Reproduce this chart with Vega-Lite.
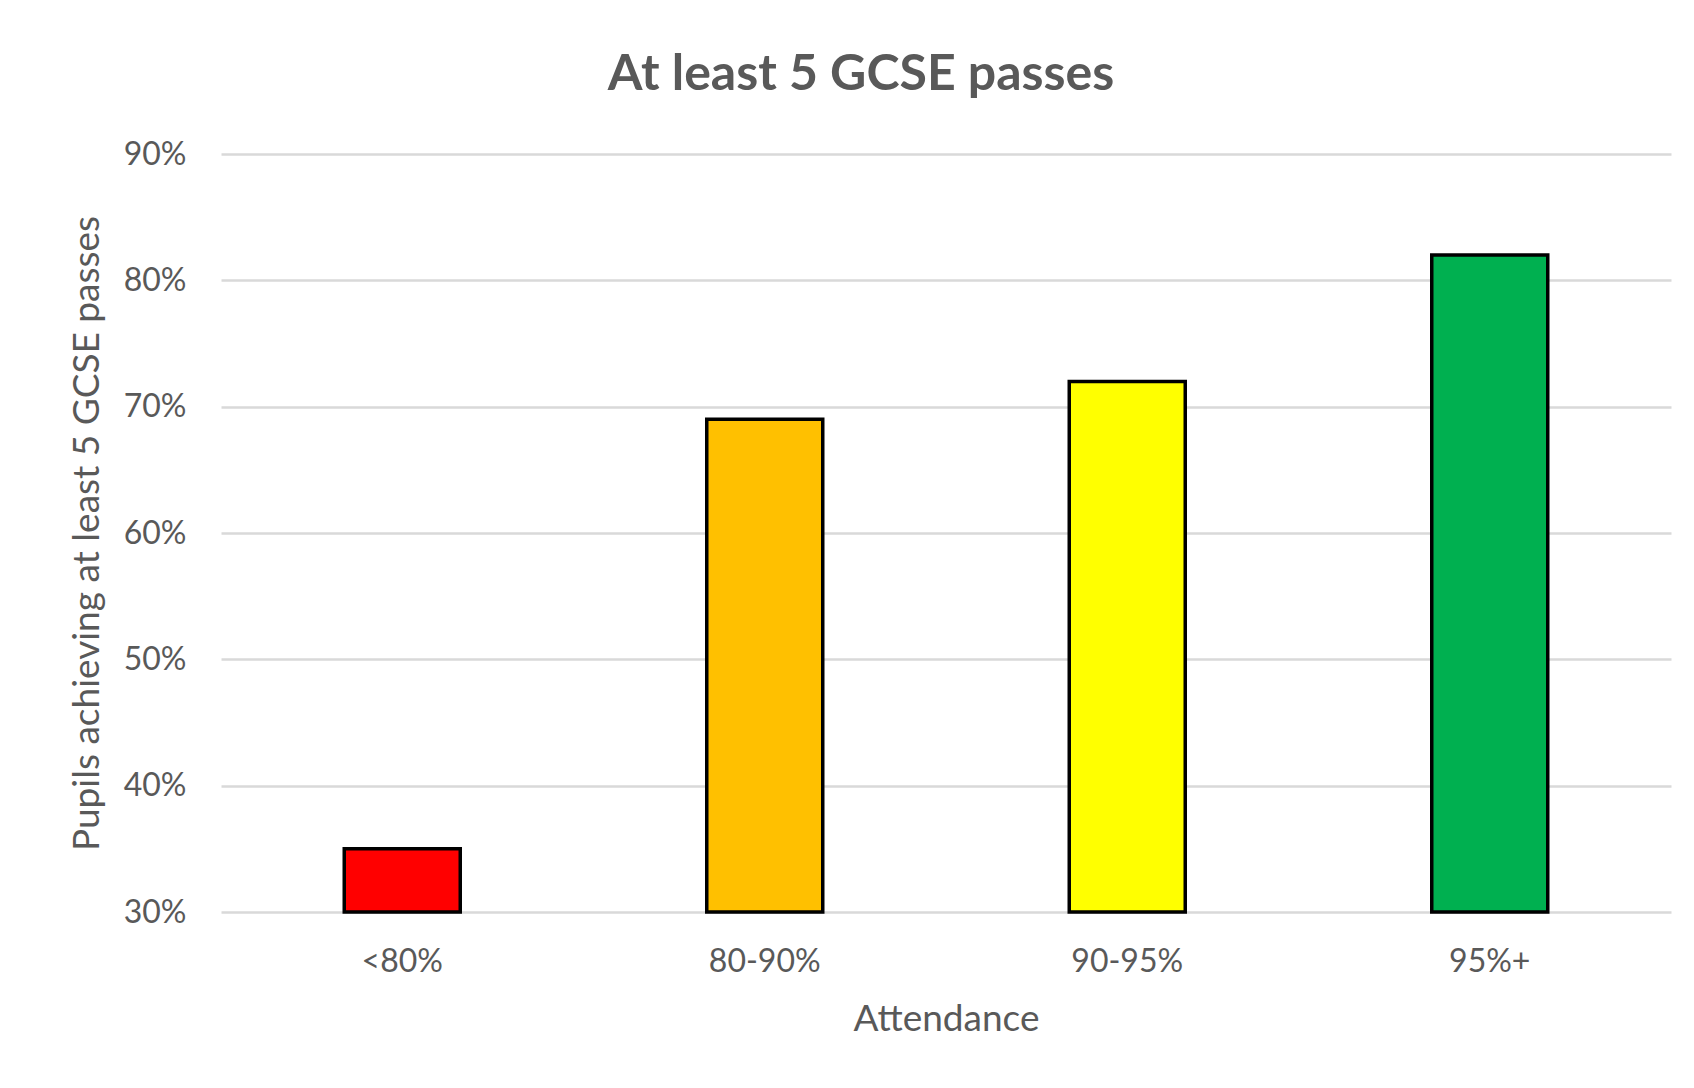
{
  "$schema": "https://vega.github.io/schema/vega-lite/v6.json",
  "autosize": {"type": "none"},
  "width": 1450,
  "height": 758,
  "padding": {"left": 221, "top": 154, "right": 23, "bottom": 176},
  "background": "white",
  "data": {"values": [
    {"attendance": "<80%", "share": 0.35},
    {"attendance": "80-90%", "share": 0.69},
    {"attendance": "90-95%", "share": 0.72},
    {"attendance": "95%+", "share": 0.82}
  ]},
  "title": {
    "text": "At least 5 GCSE passes",
    "font": "Lato",
    "fontSize": 50,
    "fontWeight": "bold",
    "color": "#595959",
    "anchor": "middle",
    "baseline": "alphabetic",
    "offset": -2,
    "dx": -85
  },
  "mark": {"type": "bar", "stroke": "black", "strokeWidth": 3.5},
  "encoding": {
    "x": {
      "field": "attendance",
      "type": "nominal",
      "sort": null,
      "scale": {"paddingInner": 0.68, "paddingOuter": 0.34},
      "axis": {
        "title": "Attendance",
        "labelAngle": 0,
        "domain": false,
        "ticks": false,
        "tickSize": 0,
        "labelPadding": 34,
        "titlePadding": 24
      }
    },
    "y": {
      "field": "share",
      "type": "quantitative",
      "scale": {"domain": [0.3, 0.9], "zero": false, "nice": false},
      "axis": {
        "title": "Pupils achieving at least 5 GCSE passes",
        "format": ".0%",
        "values": [0.3, 0.4, 0.5, 0.6, 0.7, 0.8, 0.9],
        "domain": false,
        "ticks": false,
        "tickSize": 0,
        "labelPadding": 35,
        "titlePadding": 17
      }
    },
    "y2": {"datum": 0.3},
    "color": {
      "field": "attendance",
      "type": "nominal",
      "scale": {
        "domain": ["<80%", "80-90%", "90-95%", "95%+"],
        "range": ["#FF0000", "#FFC000", "#FFFF00", "#00B050"]
      },
      "legend": null
    }
  },
  "config": {
    "view": {"stroke": null},
    "axis": {
      "labelFont": "Lato",
      "labelFontSize": 32,
      "labelColor": "#595959",
      "titleFont": "Lato",
      "titleFontSize": 37,
      "titleFontWeight": "normal",
      "titleColor": "#595959",
      "gridColor": "#d9d9d9",
      "gridWidth": 2.5
    }
  }
}
